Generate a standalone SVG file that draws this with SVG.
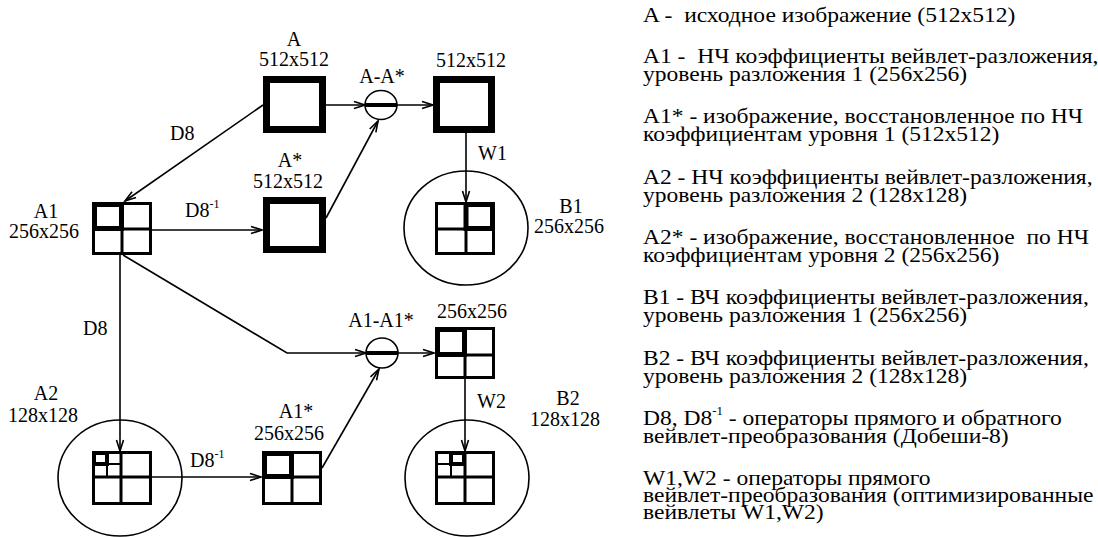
<svg xmlns="http://www.w3.org/2000/svg" width="1098" height="537" viewBox="0 0 1098 537" font-family="'Liberation Serif','Times New Roman',serif">
<style>
text{font-family:"Liberation Serif","Times New Roman",serif;fill:#000}
.lbl{font-size:20px}
.mid{text-anchor:middle}
.leg{font-size:22px;white-space:pre}
.sup{font-size:12px}
.box{fill:#fff;stroke:#000;stroke-width:7}
.grid{fill:#fff;stroke:#000;stroke-width:3}
.gl{stroke:#000;stroke-width:3;fill:none}
.thk{fill:none;stroke:#000;stroke-width:5}
.ell{fill:none;stroke:#000;stroke-width:1.6}
.op{fill:#fff;stroke:#000;stroke-width:1.6}
.bar{stroke:#000;stroke-width:4}
.con{fill:none;stroke:#000;stroke-width:1.6;marker-end:url(#ar)}
</style>
<defs>
<marker id="ar" markerWidth="14" markerHeight="10" refX="12" refY="5" orient="auto" markerUnits="userSpaceOnUse">
<path d="M1,1.5 L12,5 L1,8.5" fill="none" stroke="#000" stroke-width="1.6"/>
</marker>
</defs>
<rect width="1098" height="537" fill="#fff"/>

<g id="connectors">
<path class="con" d="M263,105 L125,201"/>
<path class="con" d="M152,230 L262,230"/>
<path class="con" d="M326,105 L365,105"/>
<path class="con" d="M326,218 L378,121"/>
<path class="con" d="M397,105 L433,105"/>
<path class="con" d="M466,133 L466,202"/>
<path class="con" d="M120,255 L120,451"/>
<path class="con" d="M123,255 L287,353 L366,353"/>
<path class="con" d="M152,477 L261,477"/>
<path class="con" d="M322,468 L379,369"/>
<path class="con" d="M398,353 L434,353"/>
<path class="con" d="M465,379 L465,451"/>
</g>

<g id="labels">
<text class="lbl" x="170" y="140">D8</text>
<text class="lbl" x="185" y="217">D8<tspan class="sup" dy="-9">-1</tspan></text>
<text class="lbl" x="478" y="160">W1</text>
<text class="lbl" x="83" y="335">D8</text>
<text class="lbl" x="190" y="467">D8<tspan class="sup" dy="-9">-1</tspan></text>
<text class="lbl" x="477" y="408">W2</text>
</g>

<g id="nodeA">
<text class="lbl mid" x="294" y="46">A</text>
<text class="lbl mid" x="294" y="66">512x512</text>
<rect class="box" x="266.5" y="79.5" width="56" height="50"/>
</g>

<g id="nodeAstar">
<text class="lbl mid" x="290" y="167">A*</text>
<text class="lbl mid" x="288" y="188">512x512</text>
<rect class="box" x="266.5" y="200.5" width="56" height="49"/>
</g>

<g id="nodeDiff1">
<text class="lbl mid" x="382" y="83">A-A*</text>
<ellipse class="op" cx="381" cy="105" rx="16" ry="14.5"/>
<line class="bar" x1="365" y1="105" x2="397" y2="105"/>
</g>

<g id="nodeR1">
<text class="lbl mid" x="471" y="67">512x512</text>
<rect class="box" x="436.5" y="79.5" width="55" height="50"/>
</g>

<g id="nodeA1">
<text class="lbl mid" x="46" y="218">A1</text>
<text class="lbl mid" x="44" y="238">256x256</text>
<rect class="grid" x="93.5" y="203.5" width="57" height="50"/>
<line class="gl" x1="122" y1="203.5" x2="122" y2="253.5"/>
<line class="gl" x1="93.5" y1="229" x2="150.5" y2="229"/>
<rect class="thk" x="94.5" y="204.5" width="27" height="24"/>
</g>

<g id="nodeB1">
<ellipse class="ell" cx="466" cy="228" rx="62" ry="57"/>
<text class="lbl mid" x="571" y="213">B1</text>
<text class="lbl mid" x="569" y="233">256x256</text>
<rect class="grid" x="436.5" y="203.5" width="57" height="50"/>
<line class="gl" x1="466" y1="203.5" x2="466" y2="253.5"/>
<line class="gl" x1="436.5" y1="229" x2="493.5" y2="229"/>
<rect class="thk" x="466" y="204.5" width="26.5" height="24"/>
</g>

<g id="nodeDiff2">
<text class="lbl mid" x="381" y="327">A1-A1*</text>
<ellipse class="op" cx="382" cy="353" rx="16" ry="15"/>
<line class="bar" x1="366" y1="353" x2="398" y2="353"/>
</g>

<g id="nodeR2">
<text class="lbl mid" x="472" y="318">256x256</text>
<rect class="grid" x="436.5" y="328.5" width="57" height="49"/>
<line class="gl" x1="465" y1="328.5" x2="465" y2="377.5"/>
<line class="gl" x1="436.5" y1="355" x2="493.5" y2="355"/>
<rect class="thk" x="437.5" y="329.5" width="27" height="25"/>
</g>

<g id="nodeA2">
<text class="lbl mid" x="46" y="400">A2</text>
<text class="lbl mid" x="43" y="422">128x128</text>
<ellipse class="ell" cx="120" cy="478" rx="62" ry="58"/>
<rect class="grid" x="93.5" y="452.5" width="57" height="51"/>
<line class="gl" x1="121" y1="452.5" x2="121" y2="503.5"/>
<line class="gl" x1="93.5" y1="477" x2="150.5" y2="477"/>
<line class="gl" x1="107" y1="452.5" x2="107" y2="477" style="stroke-width:2"/>
<line class="gl" x1="93.5" y1="464" x2="121" y2="464" style="stroke-width:2"/>
<rect class="thk" x="94" y="453" width="13" height="11" style="stroke-width:4"/>
</g>

<g id="nodeA1star">
<text class="lbl mid" x="296" y="418">A1*</text>
<text class="lbl mid" x="289" y="440">256x256</text>
<rect class="grid" x="263.5" y="452.5" width="57" height="51"/>
<line class="gl" x1="292" y1="452.5" x2="292" y2="503.5"/>
<line class="gl" x1="263.5" y1="477" x2="320.5" y2="477"/>
<rect class="thk" x="264.5" y="453.5" width="27" height="23"/>
</g>

<g id="nodeB2">
<ellipse class="ell" cx="467" cy="478" rx="62" ry="58"/>
<text class="lbl mid" x="568" y="405">B2</text>
<text class="lbl mid" x="565" y="426">128x128</text>
<rect class="grid" x="436.5" y="452.5" width="57" height="51"/>
<line class="gl" x1="465" y1="452.5" x2="465" y2="503.5"/>
<line class="gl" x1="436.5" y1="477" x2="493.5" y2="477"/>
<line class="gl" x1="451" y1="452.5" x2="451" y2="477" style="stroke-width:2"/>
<line class="gl" x1="436.5" y1="464" x2="465" y2="464" style="stroke-width:2"/>
<rect class="thk" x="451" y="453" width="13" height="11" style="stroke-width:4"/>
</g>

<g id="legend" transform="translate(643,0) scale(1.07,1) translate(-643,0)">
<text class="leg" x="643" y="22">A -  исходное изображение (512x512)</text>
<text class="leg" x="643" y="63">A1 -  НЧ коэффициенты вейвлет-разложения,<tspan x="643" dy="18">уровень разложения 1 (256x256)</tspan></text>
<text class="leg" x="643" y="123">A1* - изображение, восстановленное по НЧ<tspan x="643" dy="18">коэффициентам уровня 1 (512x512)</tspan></text>
<text class="leg" x="643" y="184">A2 - НЧ коэффициенты вейвлет-разложения,<tspan x="643" dy="18">уровень разложения 2 (128x128)</tspan></text>
<text class="leg" x="643" y="244">A2* - изображение, восстановленное  по НЧ<tspan x="643" dy="18">коэффициентам уровня 2 (256x256)</tspan></text>
<text class="leg" x="643" y="304">B1 - ВЧ коэффициенты вейвлет-разложения,<tspan x="643" dy="18">уровень разложения 1 (256x256)</tspan></text>
<text class="leg" x="643" y="365">B2 - ВЧ коэффициенты вейвлет-разложения,<tspan x="643" dy="18">уровень разложения 2 (128x128)</tspan></text>
<text class="leg" x="643" y="425">D8, D8<tspan class="sup" dy="-10">-1</tspan><tspan dy="10"> - операторы прямого и обратного</tspan><tspan x="643" dy="18">вейвлет-преобразования (Добеши-8)</tspan></text>
<text class="leg" x="643" y="485">W1,W2 - операторы прямого<tspan x="643" dy="17">вейвлет-преобразования (оптимизированные</tspan><tspan x="643" dy="17">вейвлеты W1,W2)</tspan></text>
</g>
</svg>
